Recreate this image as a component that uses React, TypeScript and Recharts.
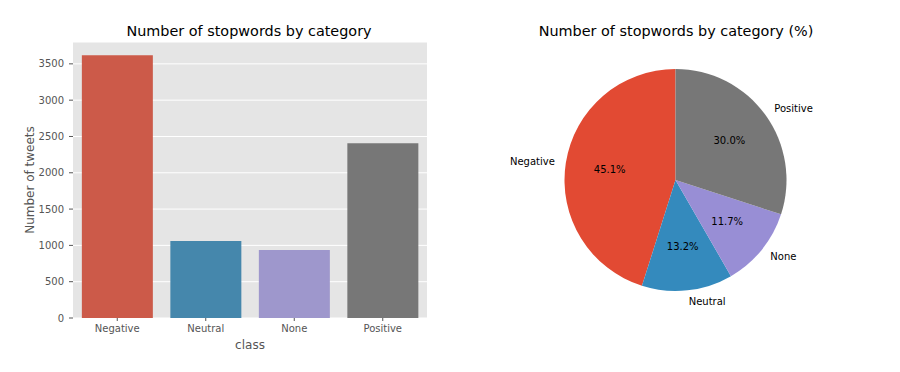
import { BarChart, Bar, XAxis, YAxis, CartesianGrid, Cell, PieChart, Pie } from 'recharts';

const categories = ['Negative', 'Neutral', 'None', 'Positive'];
const stopwordCounts = [3620, 1060, 936, 2408];
const yTicks = [0, 500, 1000, 1500, 2000, 2500, 3000, 3500];

// seaborn-desaturated bars, plain ggplot colours for the pie
const barColors = ['#CC5A49', '#4587AC', '#9E97CC', '#777777'];
const pieColors = ['#E24A33', '#348ABD', '#988ED5', '#777777'];

const data = categories.map((name, i) => ({ name, count: stopwordCounts[i] }));

const FONT = '"DejaVu Sans", sans-serif';
const RAD = Math.PI / 180;

const renderPieLabel = (props: any) => {
  const { cx, cy, midAngle, outerRadius, percent, name } = props;
  const cos = Math.cos(-midAngle * RAD);
  const sin = Math.sin(-midAngle * RAD);
  const lx = cx + outerRadius * 1.1 * cos;
  const ly = cy + outerRadius * 1.1 * sin;
  const px = cx + outerRadius * 0.6 * cos;
  const py = cy + outerRadius * 0.6 * sin;
  return (
    <g>
      <text x={lx} y={ly} textAnchor={lx > cx ? 'start' : 'end'} dominantBaseline="central"
        fontSize={10} fontFamily={FONT} fill="#000">
        {name}
      </text>
      <text x={px} y={py} textAnchor="middle" dominantBaseline="central"
        fontSize={10} fontFamily={FONT} fill="#000">
        {(percent * 100).toFixed(1)}%
      </text>
    </g>
  );
};

export default function App() {
  const maxY = Math.max(...stopwordCounts) * 1.05;
  return (
    <div style={{ position: 'absolute', left: 0, top: 0, width: 900, height: 372, background: '#fff' }}>
      <div style={{ position: 'absolute', left: 0, top: 0 }}>
        <BarChart width={450} height={372} data={data} barCategoryGap="10%"
          margin={{ top: 42, right: 23, bottom: 24, left: 13 }}>
          <CartesianGrid vertical={false} stroke="#fff" fill="#E5E5E5" strokeWidth={1} />
          <XAxis dataKey="name" height={30} axisLine={false} tickSize={3} tickMargin={4}
            tickLine={{ stroke: '#555' }} tick={{ fill: '#555', fontSize: 10, fontFamily: FONT }} />
          <YAxis type="number" domain={[0, maxY]} ticks={yTicks} width={60} axisLine={false}
            tickSize={4} tickMargin={5} tickLine={{ stroke: '#555' }}
            tick={{ fill: '#555', fontSize: 10, fontFamily: FONT }} />
          <Bar dataKey="count" isAnimationActive={false}>
            {data.map((d, i) => (
              <Cell key={d.name} fill={barColors[i]} />
            ))}
          </Bar>
        </BarChart>
      </div>
      <div style={{ position: 'absolute', left: 450, top: 0 }}>
        <PieChart width={450} height={372} margin={{ top: 0, right: 0, bottom: 0, left: 0 }}>
          <Pie data={data} dataKey="count" nameKey="name" cx={225.5} cy={180} outerRadius={111}
            startAngle={90} endAngle={450} stroke="none" labelLine={false}
            label={renderPieLabel} isAnimationActive={false}>
            {data.map((d, i) => (
              <Cell key={d.name} fill={pieColors[i]} />
            ))}
          </Pie>
        </PieChart>
      </div>
      <svg width={900} height={372} style={{ position: 'absolute', left: 0, top: 0, pointerEvents: 'none' }}>
        <text x={249} y={35.5} textAnchor="middle" fontSize={14.4} fontFamily={FONT} fill="#000">
          Number of stopwords by category
        </text>
        <text x={676} y={35.5} textAnchor="middle" fontSize={14.4} fontFamily={FONT} fill="#000">
          Number of stopwords by category (%)
        </text>
        <text x={250} y={349} textAnchor="middle" fontSize={12} fontFamily={FONT} fill="#555">
          class
        </text>
        <text x={33.5} y={180} textAnchor="middle" fontSize={12} fontFamily={FONT} fill="#555"
          transform="rotate(-90, 33.5, 180)">
          Number of tweets
        </text>
      </svg>
    </div>
  );
}
